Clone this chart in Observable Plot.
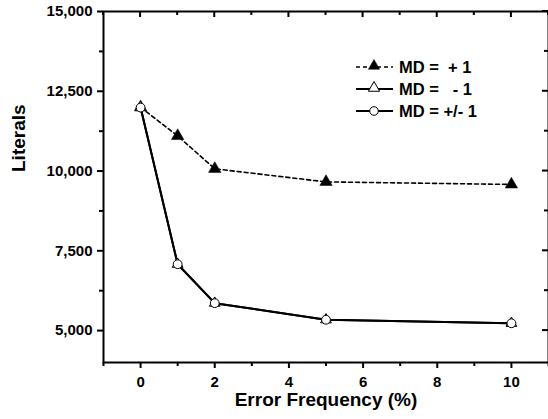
<!DOCTYPE html>
<html><head><meta charset="utf-8">
<script src="https://cdn.jsdelivr.net/npm/d3@7"></script>
<script src="https://cdn.jsdelivr.net/npm/@observablehq/plot@0.6"></script>
<style>
body{margin:0;background:#fff;}
svg{font-family:"Liberation Sans",Arial,Helvetica,sans-serif;}
</style>
</head><body><div id="chart"></div>
<script>
const errorFreq = [0, 1, 2, 5, 10];
const mdPlus = [12000, 11100, 10070, 9660, 9580];
const mdMinus = [11990, 7080, 5860, 5340, 5230];
const mdBoth = [11990, 7080, 5860, 5340, 5230];
const seriesLabels = ["MD =  + 1", "MD =   - 1", "MD = +/- 1"];
const xTicks = [0, 2, 4, 6, 8, 10];
const xMinorTicks = [-1, 1, 3, 5, 7, 9, 11];
const yTicks = [5000, 7500, 10000, 12500, 15000];
const yMinorTicks = [6250, 8750, 11250, 13750];
const xLabel = "Error Frequency (%)";
const yLabel = "Literals";

(function () {
const rows = (vals, s) => errorFreq.map((x, i) => ({x, y: vals[i], s}));
const plusData = rows(mdPlus, "plus");
const minusData = rows(mdMinus, "minus");
const bothData = rows(mdBoth, "both");

const W = 548, H = 419;
const font = 'Liberation Sans, Arial, sans-serif';

const plot = Plot.plot({
  width: W, height: H,
  marginLeft: 103, marginTop: 11, marginBottom: 57, marginRight: 0,
  x: {domain: [-1, 11]},
  y: {domain: [4000, 15000]},
  style: {fontFamily: font, color: "#000", background: "#fff", overflow: "visible"},
  marks: [
    Plot.axisX({ticks: xTicks, tickSize: 6, tickPadding: 8, tickFormat: d => String(d), label: null, fontSize: 15, fontWeight: "bold", strokeWidth: 2}),
    Plot.axisX({ticks: xMinorTicks, tickSize: 4, tickFormat: () => "", label: null, strokeWidth: 2}),
    Plot.axisY({ticks: yTicks, tickSize: 6, tickPadding: 5, tickFormat: d3.format(","), label: null, fontSize: 15, fontWeight: "bold", strokeWidth: 2}),
    Plot.axisY({ticks: yMinorTicks, tickSize: 4, tickFormat: () => "", label: null, strokeWidth: 2}),
    Plot.text([xLabel], {frameAnchor: "bottom", dy: 43, fontSize: 19, fontWeight: "bold", fill: "#000"}),
    Plot.text([yLabel], {frameAnchor: "left", rotate: -90, dx: -85, dy: -15, fontSize: 19, fontWeight: "bold", fill: "#000"}),
    Plot.line(plusData, {x: "x", y: "y", stroke: "#000", strokeWidth: 1.6, strokeDasharray: "4,3"}),
    Plot.line(minusData, {x: "x", y: "y", stroke: "#000", strokeWidth: 2}),
    Plot.line(bothData, {x: "x", y: "y", stroke: "#000", strokeWidth: 2}),
    Plot.dot(plusData, {x: "x", y: "y", symbol: "triangle", r: 4.6, fill: "#000", stroke: "#000", strokeWidth: 0.5}),
    Plot.dot(minusData, {x: "x", y: "y", symbol: "triangle", r: 4, fill: "#fff", stroke: "#000", strokeWidth: 1}),
    Plot.dot(bothData, {x: "x", y: "y", symbol: "circle", r: 4.4, fill: "#fff", stroke: "#000", strokeWidth: 1}),
    Plot.frame({stroke: "#000", strokeWidth: 2})
  ]
});

const svg = d3.select(plot);
const xs = plot.scale("x"), ys = plot.scale("y");
const fx = v => xs.apply(v), fy = v => ys.apply(v);
const pTop = fy(15000), pRight = fx(11);

const g = svg.append("g").attr("stroke", "#000").attr("stroke-width", 2);
xTicks.forEach(t => g.append("line").attr("x1", fx(t)).attr("x2", fx(t)).attr("y1", pTop).attr("y2", pTop + 6));
xMinorTicks.forEach(t => g.append("line").attr("x1", fx(t)).attr("x2", fx(t)).attr("y1", pTop).attr("y2", pTop + 4));
yTicks.forEach(t => g.append("line").attr("x1", pRight).attr("x2", pRight - 6).attr("y1", fy(t)).attr("y2", fy(t)));
yMinorTicks.forEach(t => g.append("line").attr("x1", pRight).attr("x2", pRight - 4).attr("y1", fy(t)).attr("y2", fy(t)));

const legendRows = [
  {label: seriesLabels[0], dash: "4,3", symbol: d3.symbolTriangle, fill: "#000", sw: 1.6},
  {label: seriesLabels[1], dash: null, symbol: d3.symbolTriangle, fill: "#fff", sw: 2},
  {label: seriesLabels[2], dash: null, symbol: d3.symbolCircle, fill: "#fff", sw: 2}
];
const lx0 = 356, lx1 = 393, lsx = 374, ltx = 399, ly0 = 67, ldy = 22;
const lg = svg.append("g");
legendRows.forEach((r, i) => {
  const yy = ly0 + i * ldy;
  lg.append("line").attr("x1", lx0).attr("x2", lx1).attr("y1", yy).attr("y2", yy)
    .attr("stroke", "#000").attr("stroke-width", r.sw).attr("stroke-dasharray", r.dash);
  const isC = r.symbol === d3.symbolCircle;
  lg.append("path").attr("d", d3.symbol(r.symbol, isC ? 58 : 55)())
    .attr("transform", `translate(${lsx},${yy - (isC ? 0 : 1)})`)
    .attr("fill", r.fill).attr("stroke", "#000").attr("stroke-width", r.fill === "#000" ? 0.5 : 1);
  lg.append("text").attr("x", ltx).attr("y", yy).attr("dy", "0.35em")
    .attr("text-anchor", "start")
    .attr("font-size", 16.5).attr("font-weight", "bold").attr("fill", "#000")
    .style("white-space", "pre").text(r.label);
});

document.getElementById("chart").appendChild(plot);
})();
</script>
</body></html>
